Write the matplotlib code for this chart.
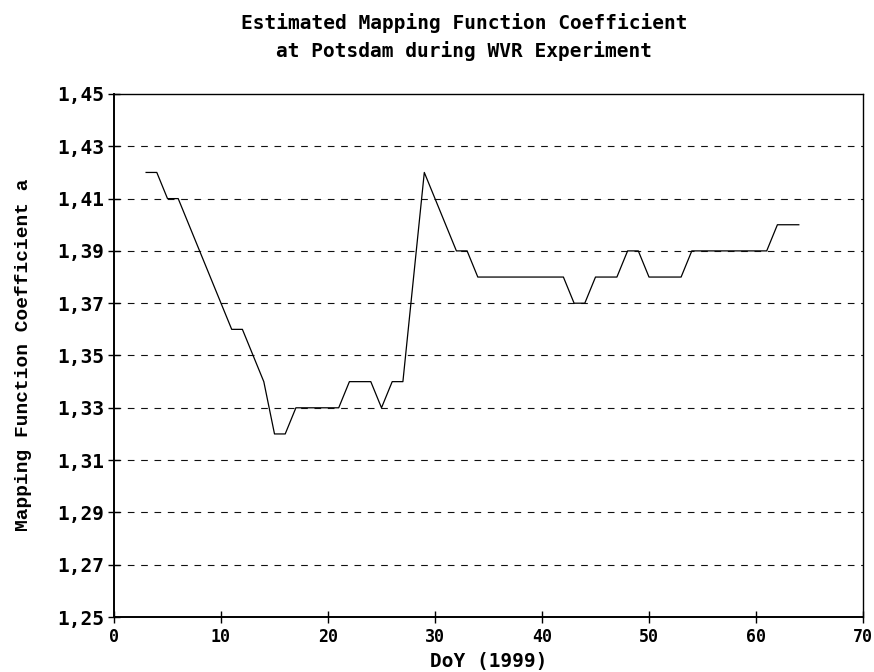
import matplotlib
matplotlib.use("Agg")
import matplotlib.pyplot as plt
from matplotlib.ticker import FixedLocator, FuncFormatter

# Day of year (1999) and estimated coefficient a
doy = list(range(3, 65))
coef_a = [
    1.42, 1.42, 1.41, 1.41, 1.40, 1.39, 1.38, 1.37, 1.36, 1.36,   # 3-12
    1.35, 1.34, 1.32, 1.32, 1.33, 1.33, 1.33, 1.33, 1.33, 1.34,   # 13-22
    1.34, 1.34, 1.33, 1.34, 1.34, 1.38, 1.42, 1.41, 1.40, 1.39,   # 23-32
    1.39, 1.38, 1.38, 1.38, 1.38, 1.38, 1.38, 1.38, 1.38, 1.38,   # 33-42
    1.37, 1.37, 1.38, 1.38, 1.38, 1.39, 1.39, 1.38, 1.38, 1.38,   # 43-52
    1.38, 1.39, 1.39, 1.39, 1.39, 1.39, 1.39, 1.39, 1.39, 1.40,   # 53-62
    1.40, 1.40,                                                   # 63-64
]

x_ticks = [0, 10, 20, 30, 40, 50, 60, 70]
y_ticks = [1.25, 1.27, 1.29, 1.31, 1.33, 1.35, 1.37, 1.39, 1.41, 1.43, 1.45]

title_text = "Estimated Mapping Function Coefficient\nat Potsdam during WVR Experiment"
x_label = "DoY (1999)"
y_label = "Mapping Function Coefficient a"

W, H = 874, 672
fig = plt.figure(figsize=(W / 100, H / 100), dpi=100)
ax = fig.add_axes([114 / W, 1 - 617 / H, (863 - 114) / W, (617 - 94) / H])

ax.plot(doy, coef_a, color="black", linewidth=0.9)

ax.set_xlim(0, 70)
ax.set_ylim(1.25, 1.45)
ax.xaxis.set_major_locator(FixedLocator(x_ticks))
ax.yaxis.set_major_locator(FixedLocator(y_ticks))
ax.yaxis.set_major_formatter(FuncFormatter(lambda v, p: f"{v:.2f}".replace(".", ",")))
ax.xaxis.set_major_formatter(FuncFormatter(lambda v, p: f"{v:.0f}"))

# dashed horizontal grid at the inner ticks
for y in y_ticks[1:-1]:
    ax.axhline(y, color="#111111", linewidth=0.8, linestyle=(0, (6, 6)), zorder=0)

mono = "DejaVu Sans Mono"
ax.tick_params(axis="both", direction="inout", length=8, width=1, color="black")
ax.tick_params(axis="y", pad=3)
ax.tick_params(axis="x", pad=4)
for lab in ax.get_yticklabels():
    lab.set_fontfamily(mono)
    lab.set_fontweight("bold")
    lab.set_fontsize(14)
for lab in ax.get_xticklabels():
    lab.set_fontfamily(mono)
    lab.set_fontweight("bold")
    lab.set_fontsize(12)

for side in ["top", "right"]:
    ax.spines[side].set_linewidth(1.0)
for side in ["left", "bottom"]:
    ax.spines[side].set_linewidth(1.4)

fig.text(464 / W, 1 - 37 / H, title_text, ha="center", va="center",
         fontfamily=mono, fontweight="bold", fontsize=14, linespacing=1.45)
fig.text((114 + 863) / 2 / W, 1 - 662 / H, x_label, ha="center", va="center",
         fontfamily=mono, fontweight="bold", fontsize=14)
fig.text(24 / W, 1 - 355 / H, y_label, ha="center", va="center", rotation=90,
         fontfamily="Liberation Mono", fontweight="bold", fontsize=14)

fig.savefig("out.png", dpi=100)
